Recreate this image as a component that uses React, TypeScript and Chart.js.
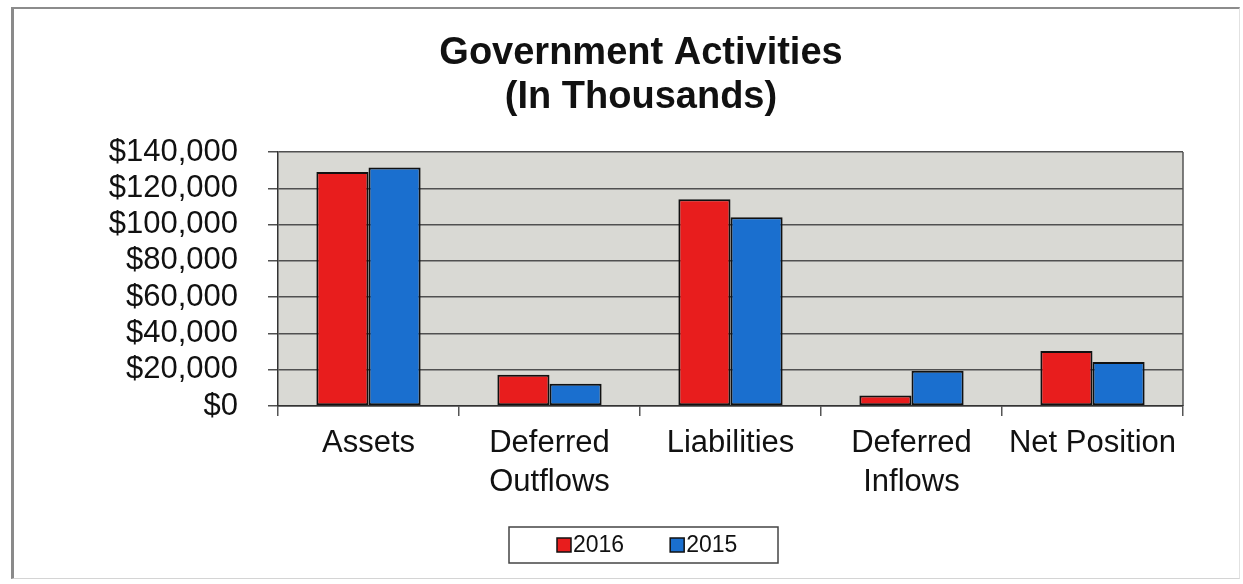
import React, { useEffect, useRef } from 'react';
import { Chart, registerables } from 'chart.js';

Chart.register(...registerables);

// ---- Data ----
const categories: (string | string[])[] = [
  'Assets',
  ['Deferred', 'Outflows'],
  'Liabilities',
  ['Deferred', 'Inflows'],
  'Net Position',
];
const seriesLabels = ['2016', '2015'];
const values2016 = [129000, 17200, 114000, 5800, 30300];
const values2015 = [131500, 12200, 104000, 19400, 24300];
const yMin = 0;
const yMax = 140000;
const yStep = 20000;
const titleLines = ['Government Activities', '(In Thousands)'];

const FONT = '"Liberation Sans", Arial, Helvetica, sans-serif';

const plotFrame = {
  id: 'plotFrame',
  beforeDraw(chart: any) {
    const { ctx, chartArea: a } = chart;
    ctx.save();
    ctx.fillStyle = '#d9d9d4';
    ctx.fillRect(a.left, a.top, a.right - a.left, a.bottom - a.top);
    ctx.strokeStyle = '#555';
    ctx.lineWidth = 1.5;
    ctx.beginPath();
    ctx.moveTo(a.right, a.top);
    ctx.lineTo(a.right, a.bottom);
    ctx.stroke();
    ctx.restore();
  },
};

const boxLegend = {
  id: 'boxLegend',
  afterDraw(chart: any, _args: any, o: any) {
    const ctx = chart.ctx;
    ctx.save();
    ctx.strokeStyle = o.borderColor;
    ctx.lineWidth = o.borderWidth;
    ctx.strokeRect(o.left, o.top, o.width, o.height);
    ctx.font = o.font;
    ctx.textBaseline = 'middle';
    ctx.textAlign = 'left';
    const cy = o.top + o.height / 2;
    let x = o.itemStart;
    chart.data.datasets.forEach((ds: any) => {
      ctx.fillStyle = ds.backgroundColor;
      ctx.fillRect(x, cy - o.square / 2, o.square, o.square);
      ctx.strokeStyle = '#111';
      ctx.lineWidth = 1.5;
      ctx.strokeRect(x, cy - o.square / 2, o.square, o.square);
      x += o.square + o.textGap;
      ctx.fillStyle = '#111';
      ctx.fillText(ds.label, x, cy + 1);
      x += ctx.measureText(ds.label).width + o.itemGap;
    });
    ctx.restore();
  },
};

export default function App() {
  const canvasRef = useRef<HTMLCanvasElement | null>(null);

  useEffect(() => {
    if (!canvasRef.current) return;
    const chart = new Chart(canvasRef.current, {
      type: 'bar',
      data: {
        labels: categories as any,
        datasets: [
          {
            label: seriesLabels[0],
            data: values2016,
            backgroundColor: '#e81d1d',
            borderColor: '#111',
            borderWidth: 2,
            borderSkipped: false,
            barPercentage: 1,
            categoryPercentage: 0.576,
          },
          {
            label: seriesLabels[1],
            data: values2015,
            backgroundColor: '#1a6fcf',
            borderColor: '#111',
            borderWidth: 2,
            borderSkipped: false,
            barPercentage: 1,
            categoryPercentage: 0.576,
          },
        ],
      },
      plugins: [plotFrame, boxLegend],
      options: {
        animation: false,
        responsive: true,
        maintainAspectRatio: false,
        layout: { padding: { left: 99, right: 60, top: 0, bottom: 58 } },
        plugins: {
          legend: { display: false },
          tooltip: { enabled: false },
          title: {
            display: true,
            text: titleLines,
            color: '#111',
            font: { family: FONT, size: 38, weight: 'bold', lineHeight: '44px' },
            padding: { top: 32, bottom: 32 },
          },
          boxLegend: {
            left: 509,
            top: 527,
            width: 269,
            height: 36,
            borderColor: '#444',
            borderWidth: 1.5,
            font: `23px ${FONT}`,
            itemStart: 557,
            square: 14,
            textGap: 2,
            itemGap: 46,
          },
        } as any,
        scales: {
          x: {
            offset: true,
            grid: {
              offset: true,
              drawOnChartArea: false,
              drawTicks: true,
              tickLength: 10,
              color: '#555',
              lineWidth: 1.5,
            },
            border: { display: true, color: '#333', width: 1.5 },
            ticks: {
              color: '#111',
              padding: 8,
              font: { family: FONT, size: 31, lineHeight: '39px' },
              maxRotation: 0,
              autoSkip: false,
            },
            afterFit(scale: any) {
              scale.height = 120;
            },
          },
          y: {
            min: yMin,
            max: yMax,
            grid: {
              drawOnChartArea: true,
              drawTicks: true,
              tickLength: 10,
              color: '#505050',
              lineWidth: 1.5,
            },
            border: { display: true, color: '#333', width: 1.5 },
            ticks: {
              stepSize: yStep,
              autoSkip: false,
              color: '#111',
              padding: 30,
              font: { family: FONT, size: 31 },
              callback: (v: any) => '$' + Number(v).toLocaleString('en-US'),
            },
            afterFit(scale: any) {
              scale.width = 179;
            },
          },
        },
      },
    });
    return () => chart.destroy();
  }, []);

  return (
    <>
      <div
        style={{
          position: 'absolute',
          left: 11,
          top: 7,
          width: 1229,
          height: 572,
          borderTop: '2px solid #8c8c8c',
          borderLeft: '3px solid #8a8a8a',
          borderBottom: '1px solid #d4d4d4',
          borderRight: '1px solid #e2e2e2',
          boxSizing: 'border-box',
        }}
      />
      <div style={{ position: 'absolute', left: 0, top: 0, width: 1243, height: 584 }}>
        <canvas ref={canvasRef} />
      </div>
    </>
  );
}
